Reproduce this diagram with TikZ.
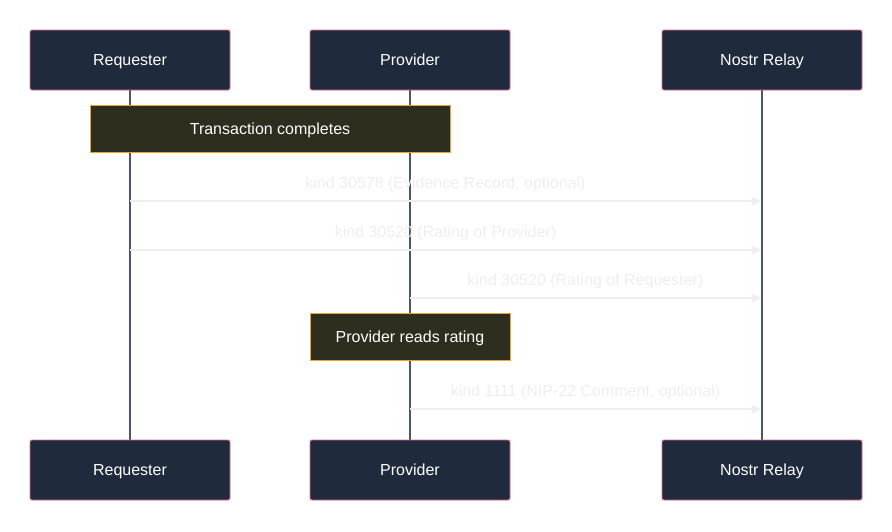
\documentclass[tikz,border=0pt]{standalone}
\usepackage{fontspec}
\setmainfont{Liberation Sans}
\usetikzlibrary{arrows.meta}
\definecolor{actorbg}{HTML}{1F2A3C}
\definecolor{actorline}{HTML}{E46A86}
\definecolor{notebg}{HTML}{2E2E1E}
\definecolor{noteline}{HTML}{E8A33A}
\definecolor{lifeline}{HTML}{4A5568}
\definecolor{msggray}{HTML}{EEEEEE}

\begin{document}
\begin{tikzpicture}[x=1pt,y=-1pt,
  actor/.style={draw=actorline,line width=0.9pt,fill=actorbg,text=white,rounded corners=2pt,
    minimum width=200pt,minimum height=60pt,inner sep=0pt,text height=13pt,text depth=2pt,
    font=\fontsize{16}{19}\selectfont},
  notebox/.style={draw=noteline,fill=notebg,text=white,minimum height=47pt,
    inner sep=0pt,text height=13pt,text depth=2pt,font=\fontsize{16}{19}\selectfont},
  msg/.style={msggray,line width=1.5pt,-{Triangle[length=9pt,width=8pt]}},
  msglabel/.style={text=msggray,font=\fontsize{16}{19}\selectfont,
    text height=13pt,text depth=2pt,yshift=18pt}]
\useasboundingbox (0,0) rectangle (892,531);
% lifelines first, boxes on top
\coordinate (reqtop) at (130,90);  \coordinate (reqbot) at (130,440);
\coordinate (provtop) at (410,90); \coordinate (provbot) at (410,440);
\coordinate (relaytop) at (762,90); \coordinate (relaybot) at (762,440);
\draw [lifeline,line width=1.3pt] (reqtop) -- (reqbot);
\draw [lifeline,line width=1.3pt] (provtop) -- (provbot);
\draw [lifeline,line width=1.3pt] (relaytop) -- (relaybot);
% actors
\node [actor] (req) at (130,60) {Requester};
\node [actor] (prov) at (410,60) {Provider};
\node [actor] (relay) at (762,60) {Nostr Relay};
\node [actor] (reqb) at (130,470) {Requester};
\node [actor] (provb) at (410,470) {Provider};
\node [actor] (relayb) at (762,470) {Nostr Relay};
% notes
\node [notebox,minimum width=360pt] (done) at (270,128.5) {Transaction completes};
\node [notebox,minimum width=200pt] (reads) at (410,337) {Provider reads rating};
% messages
\coordinate (m1a) at (130,201); \coordinate (m1b) at (761,201);
\coordinate (m2a) at (130,250); \coordinate (m2b) at (761,250);
\coordinate (m3a) at (410,298); \coordinate (m3b) at (761,298);
\coordinate (m4a) at (410,409); \coordinate (m4b) at (761,409);
\draw [msg] (m1a) -- node [msglabel] {kind 30578 (Evidence Record, optional)} (m1b);
\draw [msg] (m2a) -- node [msglabel] {kind 30520 (Rating of Provider)} (m2b);
\draw [msg] (m3a) -- node [msglabel] {kind 30520 (Rating of Requester)} (m3b);
\draw [msg] (m4a) -- node [msglabel] {kind 1111 (NIP-22 Comment, optional)} (m4b);
\end{tikzpicture}
\end{document}
